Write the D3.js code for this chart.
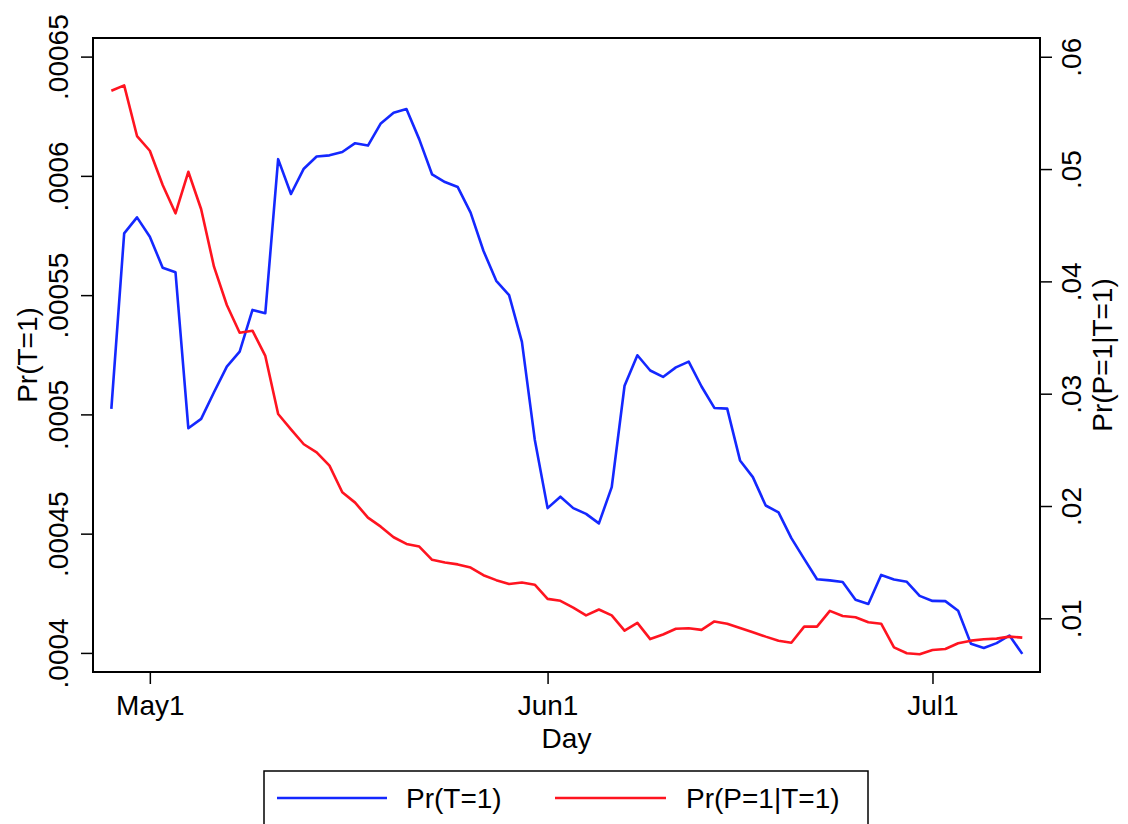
<!DOCTYPE html>
<html>
<head>
<meta charset="utf-8">
<script src="https://cdn.jsdelivr.net/npm/d3@7"></script>
<style>
  body { margin: 0; background: #fff; }
  svg { font-family: "Liberation Sans", Arial, Helvetica, sans-serif; }
</style>
</head>
<body>
<svg id="chart" width="1128" height="824"></svg>
<script>
// daily values, first day is Apr 28
const dayTicks = [3, 34, 64];
const dayTickLabels = ["May1", "Jun1", "Jul1"];

const prT = [
  0.0005023, 0.0005759, 0.0005826, 0.0005745, 0.0005615, 0.0005596, 0.0004942, 0.0004981,
  0.0005093, 0.0005200, 0.0005263, 0.0005438, 0.0005424, 0.0006070, 0.0005924, 0.0006030,
  0.0006081, 0.0006086, 0.0006100, 0.0006137, 0.0006127, 0.0006220, 0.0006265, 0.0006280,
  0.0006153, 0.0006006, 0.0005974, 0.0005953, 0.0005846, 0.0005686, 0.0005560, 0.0005500,
  0.0005304, 0.0004895, 0.0004607, 0.0004655, 0.0004607, 0.0004583, 0.0004543, 0.0004695,
  0.0005120, 0.0005248, 0.0005184, 0.0005157, 0.0005197, 0.0005221, 0.0005117, 0.0005027,
  0.0005024, 0.0004807, 0.0004737, 0.0004618, 0.0004589, 0.0004481, 0.0004394, 0.0004309,
  0.0004304, 0.0004297, 0.0004223, 0.0004205, 0.0004327, 0.0004308, 0.0004298, 0.0004239,
  0.0004218, 0.0004217, 0.0004177, 0.0004038, 0.0004021, 0.0004041, 0.0004073, 0.0003996
];

const prPgivenT = [
  0.05697, 0.05745, 0.05294, 0.05163, 0.04858, 0.04606, 0.04976, 0.04642,
  0.04131, 0.03790, 0.03543, 0.03561, 0.03336, 0.02819, 0.02683, 0.02550,
  0.02478, 0.02359, 0.02122, 0.02030, 0.01896, 0.01816, 0.01722, 0.01662,
  0.01639, 0.01521, 0.01497, 0.01480, 0.01452, 0.01384, 0.01340, 0.01306,
  0.01319, 0.01299, 0.01173, 0.01156, 0.01095, 0.01026, 0.01078, 0.01026,
  0.00890, 0.00959, 0.00815, 0.00856, 0.00907, 0.00911, 0.00897, 0.00972,
  0.00952, 0.00914, 0.00876, 0.00837, 0.00801, 0.00783, 0.00926, 0.00926,
  0.01066, 0.01021, 0.01010, 0.00965, 0.00952, 0.00741, 0.00689, 0.00680,
  0.00718, 0.00727, 0.00778, 0.00801, 0.00814, 0.00819, 0.00837, 0.00828
];

const leftTicks = [0.0004, 0.00045, 0.0005, 0.00055, 0.0006, 0.00065];
const rightTicks = [0.01, 0.02, 0.03, 0.04, 0.05, 0.06];
const seriesNames = ["Pr(T=1)", "Pr(P=1|T=1)"];
const seriesColors = ["#1428ff", "#ff1420"];

const svg = d3.select("#chart");
const margin = { top: 38, right: 88, bottom: 152, left: 93 };
const W = 1128, H = 824;
const innerW = W - margin.left - margin.right;
const innerH = H - margin.top - margin.bottom;
const fontSize = 28;

const g = svg.append("g").attr("transform", `translate(${margin.left},${margin.top})`);

const x = d3.scaleLinear().domain([-1.43, 72.38]).range([0, innerW]);
const yL = d3.scaleLinear().domain([0.000392, 0.0006578]).range([innerH, 0]);
const yR = d3.scaleLinear().domain([0.00522, 0.06167]).range([innerH, 0]);

const noLead = d => String(d).replace(/^0/, "");

// left axis
const axL = g.append("g").call(d3.axisLeft(yL).tickValues(leftTicks).tickSize(12).tickFormat(noLead));
axL.select(".domain").remove();
axL.selectAll("line").attr("stroke-width", 1.5);
axL.selectAll("text")
  .attr("x", null).attr("dy", null)
  .attr("transform", "translate(-25,0) rotate(-90)")
  .attr("text-anchor", "middle")
  .attr("font-size", fontSize).attr("fill", "#000");

// right axis
const axR = g.append("g").attr("transform", `translate(${innerW},0)`)
  .call(d3.axisRight(yR).tickValues(rightTicks).tickSize(12).tickFormat(noLead));
axR.select(".domain").remove();
axR.selectAll("line").attr("stroke-width", 1.5);
axR.selectAll("text")
  .attr("x", null).attr("dy", null)
  .attr("transform", "translate(41,0) rotate(-90)")
  .attr("text-anchor", "middle")
  .attr("font-size", fontSize).attr("fill", "#000");

// bottom axis
const axB = g.append("g").attr("transform", `translate(0,${innerH})`)
  .call(d3.axisBottom(x).tickValues(dayTicks).tickSize(12)
    .tickFormat((d, i) => dayTickLabels[i]));
axB.select(".domain").remove();
axB.selectAll("line").attr("stroke-width", 1.5);
axB.selectAll("text")
  .attr("dy", null).attr("y", 43)
  .attr("font-size", fontSize).attr("fill", "#000");

// frame
g.append("rect")
  .attr("width", innerW).attr("height", innerH)
  .attr("fill", "none").attr("stroke", "#000").attr("stroke-width", 2);

// lines
const lineL = d3.line().x((d, i) => x(i)).y(d => yL(d));
const lineR = d3.line().x((d, i) => x(i)).y(d => yR(d));

g.append("path").datum(prT)
  .attr("fill", "none").attr("stroke", seriesColors[0]).attr("stroke-width", 2.6)
  .attr("stroke-linejoin", "round").attr("d", lineL);
g.append("path").datum(prPgivenT)
  .attr("fill", "none").attr("stroke", seriesColors[1]).attr("stroke-width", 2.6)
  .attr("stroke-linejoin", "round").attr("d", lineR);

// axis titles
svg.append("text")
  .attr("transform", `translate(37,${margin.top + innerH / 2}) rotate(-90)`)
  .attr("text-anchor", "middle").attr("font-size", fontSize)
  .text("Pr(T=1)");
svg.append("text")
  .attr("transform", `translate(1112,${margin.top + innerH / 2}) rotate(-90)`)
  .attr("text-anchor", "middle").attr("font-size", fontSize)
  .text(seriesNames[1]);
svg.append("text")
  .attr("x", margin.left + innerW / 2).attr("y", 748)
  .attr("text-anchor", "middle").attr("font-size", fontSize)
  .text("Day");

// legend
const leg = svg.append("g");
leg.append("rect")
  .attr("x", 264).attr("y", 771).attr("width", 604).attr("height", 80)
  .attr("fill", "#fff").attr("stroke", "#000").attr("stroke-width", 1.5);
const legItems = [
  { x1: 277, x2: 387, tx: 406 },
  { x1: 555, x2: 666, tx: 686 }
];
legItems.forEach((it, i) => {
  leg.append("line")
    .attr("x1", it.x1).attr("x2", it.x2).attr("y1", 798).attr("y2", 798)
    .attr("stroke", seriesColors[i]).attr("stroke-width", 2.6);
  leg.append("text")
    .attr("x", it.tx).attr("y", 808).attr("font-size", fontSize)
    .text(seriesNames[i]);
});
</script>
</body>
</html>
